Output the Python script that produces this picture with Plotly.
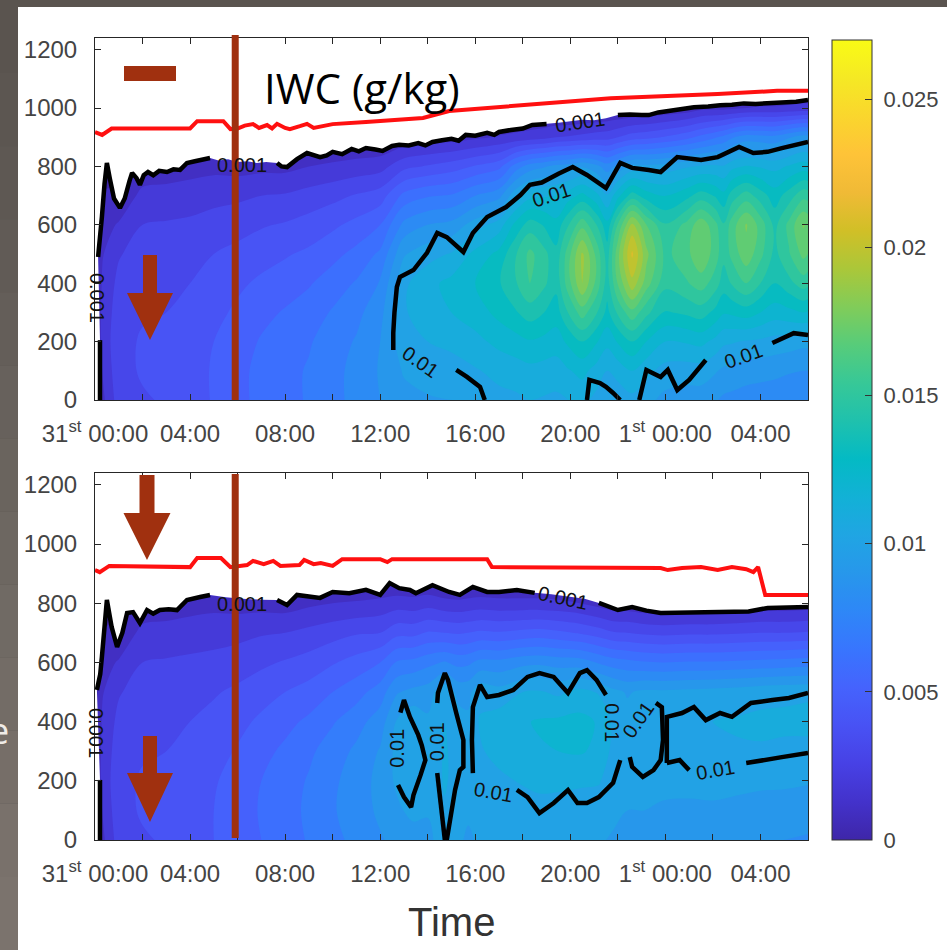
import math
import plotly.graph_objects as go

W, H = 947, 950

# ------------------------------------------------------------------ data
altitudes = [0, 100, 200, 300, 400, 500, 600, 700, 800, 900, 1000, 1100, 1200]

times_top = [0, 0.3, 1, 2, 3, 4, 5, 6, 7, 8, 9, 10, 11, 12, 13, 14, 15, 16, 17, 17.7,
             18.3, 18.9, 19.4, 19.9, 20.5, 21.1, 21.55, 22.0, 22.6, 23.2, 24.0, 24.9, 25.5,
             26.1, 26.45, 26.8, 27.4, 28.0, 28.6, 29.2, 29.8, 30]
# IWC (g/kg) columns, one per time, altitude 0..1200 m
iwc_top_cols = [
    [0, 0, 0, 0, 0, 0, 0, 0, 0, 0, 0, 0, 0],
    [0.0012, 0.0015, 0.0018, 0.0018, 0.0016, 0.0014, 0.0011, 0.0006, 0, 0, 0, 0, 0],
    [0.0030, 0.0032, 0.0032, 0.0030, 0.0028, 0.0024, 0.0016, 0.0007, 0.0002, 0, 0, 0, 0],
    [0.0034, 0.0036, 0.0036, 0.0034, 0.0032, 0.0030, 0.0025, 0.0018, 0.0008, 0, 0, 0, 0],
    [0.0036, 0.0038, 0.0037, 0.0035, 0.0033, 0.0031, 0.0026, 0.0019, 0.0009, 0, 0, 0, 0],
    [0.0040, 0.0041, 0.0040, 0.0038, 0.0035, 0.0032, 0.0027, 0.0020, 0.0011, 0.0002, 0, 0, 0],
    [0.0046, 0.0046, 0.0045, 0.0042, 0.0039, 0.0035, 0.0029, 0.0022, 0.0012, 0.0002, 0, 0, 0],
    [0.0052, 0.0052, 0.0050, 0.0047, 0.0043, 0.0038, 0.0031, 0.0023, 0.0011, 0.0002, 0, 0, 0],
    [0.0058, 0.0058, 0.0056, 0.0052, 0.0047, 0.0041, 0.0034, 0.0025, 0.0012, 0.0002, 0, 0, 0],
    [0.0062, 0.0062, 0.0060, 0.0056, 0.0050, 0.0044, 0.0036, 0.0026, 0.0012, 0.0002, 0, 0, 0],
    [0.0066, 0.0066, 0.0064, 0.0060, 0.0054, 0.0047, 0.0039, 0.0029, 0.0015, 0.0003, 0, 0, 0],
    [0.0072, 0.0072, 0.0070, 0.0066, 0.0060, 0.0052, 0.0043, 0.0032, 0.0017, 0.0003, 0, 0, 0],
    [0.0078, 0.0078, 0.0076, 0.0072, 0.0066, 0.0058, 0.0048, 0.0036, 0.0019, 0.0004, 0, 0, 0],
    [0.0085, 0.0086, 0.0085, 0.0082, 0.0076, 0.0067, 0.0055, 0.0040, 0.0021, 0.0004, 0, 0, 0],
    [0.0092, 0.0096, 0.0101, 0.0104, 0.0103, 0.0094, 0.0078, 0.0058, 0.0032, 0.0007, 0, 0, 0],
    [0.0094, 0.0099, 0.0105, 0.0110, 0.0112, 0.0101, 0.0085, 0.0064, 0.0036, 0.0009, 0, 0, 0],
    [0.0095, 0.0100, 0.0108, 0.0115, 0.0118, 0.0106, 0.0088, 0.0066, 0.0040, 0.0010, 0, 0, 0],
    [0.0098, 0.0104, 0.0112, 0.0120, 0.0125, 0.0118, 0.0100, 0.0075, 0.0046, 0.0013, 0, 0, 0],
    [0.0102, 0.0108, 0.0118, 0.0128, 0.0134, 0.0128, 0.0110, 0.0082, 0.0052, 0.0016, 0, 0, 0],
    [0.0103, 0.0110, 0.0121, 0.0134, 0.0144, 0.0144, 0.0128, 0.0102, 0.0070, 0.0018, 0, 0, 0],
    [0.0105, 0.0112, 0.0124, 0.0140, 0.0155, 0.0158, 0.0140, 0.0112, 0.0080, 0.0020, 0, 0, 0],
    [0.0104, 0.0111, 0.0122, 0.0135, 0.0147, 0.0148, 0.0134, 0.0114, 0.0084, 0.0022, 0, 0, 0],
    [0.0103, 0.0110, 0.0120, 0.0130, 0.0138, 0.0138, 0.0128, 0.0115, 0.0088, 0.0025, 0, 0, 0],
    [0.0105, 0.0114, 0.0127, 0.0145, 0.0160, 0.0160, 0.0144, 0.0120, 0.0090, 0.0026, 0, 0, 0],
    [0.0108, 0.0118, 0.0135, 0.0160, 0.0185, 0.0187, 0.0162, 0.0128, 0.0094, 0.0028, 0, 0, 0],
    [0.0102, 0.0111, 0.0126, 0.0146, 0.0162, 0.0162, 0.0145, 0.0118, 0.0088, 0.0030, 0.0001, 0, 0],
    [0.0095, 0.0105, 0.0118, 0.0132, 0.0140, 0.0140, 0.0128, 0.0106, 0.0080, 0.0031, 0.0002, 0, 0],
    [0.0098, 0.0109, 0.0126, 0.0147, 0.0166, 0.0172, 0.0156, 0.0122, 0.0088, 0.0035, 0.0002, 0, 0],
    [0.0102, 0.0115, 0.0135, 0.0162, 0.0192, 0.0207, 0.0188, 0.0140, 0.0098, 0.0040, 0.0003, 0, 0],
    [0.0098, 0.0108, 0.0125, 0.0148, 0.0170, 0.0178, 0.0165, 0.0130, 0.0098, 0.0042, 0.0004, 0, 0],
    [0.0092, 0.0101, 0.0115, 0.0134, 0.0148, 0.0152, 0.0146, 0.0124, 0.0100, 0.0046, 0.0006, 0, 0],
    [0.0090, 0.0100, 0.0116, 0.0137, 0.0154, 0.0162, 0.0158, 0.0132, 0.0104, 0.0052, 0.0008, 0, 0],
    [0.0090, 0.0100, 0.0118, 0.0140, 0.0160, 0.0174, 0.0172, 0.0140, 0.0106, 0.0058, 0.0012, 0, 0],
    [0.0086, 0.0096, 0.0112, 0.0132, 0.0150, 0.0160, 0.0158, 0.0134, 0.0107, 0.0064, 0.0012, 0, 0],
    [0.0083, 0.0093, 0.0107, 0.0126, 0.0140, 0.0148, 0.0146, 0.0128, 0.0106, 0.0068, 0.0012, 0, 0],
    [0.0082, 0.0092, 0.0106, 0.0127, 0.0146, 0.0158, 0.0160, 0.0140, 0.0112, 0.0074, 0.0013, 0, 0],
    [0.0080, 0.0090, 0.0104, 0.0130, 0.0155, 0.0172, 0.0176, 0.0150, 0.0116, 0.0080, 0.0015, 0, 0],
    [0.0079, 0.0089, 0.0103, 0.0125, 0.0145, 0.0158, 0.0161, 0.0140, 0.0114, 0.0079, 0.0016, 0, 0],
    [0.0078, 0.0088, 0.0101, 0.0120, 0.0135, 0.0142, 0.0142, 0.0130, 0.0112, 0.0078, 0.0016, 0, 0],
    [0.0077, 0.0086, 0.0100, 0.0122, 0.0142, 0.0154, 0.0158, 0.0140, 0.0116, 0.0084, 0.0017, 0, 0],
    [0.0076, 0.0085, 0.0098, 0.0125, 0.0150, 0.0168, 0.0176, 0.0152, 0.0120, 0.0090, 0.0018, 0, 0],
    [0.0076, 0.0085, 0.0098, 0.0124, 0.0148, 0.0165, 0.0173, 0.0151, 0.0119, 0.0089, 0.0018, 0, 0],
]

times_bot = [0, 0.3, 1, 2, 3, 4, 5, 6, 7, 8, 9, 10, 11, 12, 12.7, 13.4, 14, 14.7, 15.3,
             15.7, 16.2, 17, 18, 18.7, 19.5, 20.4, 21.2, 21.8, 22.4, 23.1, 23.9, 25, 26,
             27, 28, 29, 30]
iwc_bot_cols = [
    [0, 0, 0, 0, 0, 0, 0, 0, 0, 0, 0, 0, 0],
    [0.0012, 0.0015, 0.0018, 0.0018, 0.0016, 0.0014, 0.0011, 0.0006, 0, 0, 0, 0, 0],
    [0.0030, 0.0032, 0.0032, 0.0030, 0.0028, 0.0024, 0.0016, 0.0007, 0.0002, 0, 0, 0, 0],
    [0.0034, 0.0036, 0.0036, 0.0034, 0.0032, 0.0030, 0.0025, 0.0018, 0.0008, 0, 0, 0, 0],
    [0.0036, 0.0038, 0.0037, 0.0035, 0.0033, 0.0031, 0.0026, 0.0019, 0.0009, 0, 0, 0, 0],
    [0.0040, 0.0041, 0.0040, 0.0038, 0.0035, 0.0032, 0.0027, 0.0020, 0.0011, 0.0002, 0, 0, 0],
    [0.0045, 0.0045, 0.0044, 0.0041, 0.0038, 0.0034, 0.0028, 0.0021, 0.0012, 0.0002, 0, 0, 0],
    [0.0050, 0.0050, 0.0049, 0.0046, 0.0042, 0.0037, 0.0030, 0.0022, 0.0011, 0.0002, 0, 0, 0],
    [0.0055, 0.0056, 0.0055, 0.0052, 0.0047, 0.0041, 0.0033, 0.0024, 0.0011, 0.0002, 0, 0, 0],
    [0.0060, 0.0061, 0.0060, 0.0057, 0.0052, 0.0045, 0.0036, 0.0025, 0.0010, 0.0001, 0, 0, 0],
    [0.0066, 0.0067, 0.0066, 0.0063, 0.0057, 0.0049, 0.0039, 0.0028, 0.0013, 0.0002, 0, 0, 0],
    [0.0072, 0.0074, 0.0073, 0.0070, 0.0064, 0.0055, 0.0044, 0.0031, 0.0015, 0.0002, 0, 0, 0],
    [0.0078, 0.0080, 0.0080, 0.0077, 0.0071, 0.0061, 0.0049, 0.0034, 0.0016, 0.0002, 0, 0, 0],
    [0.0084, 0.0087, 0.0088, 0.0086, 0.0080, 0.0070, 0.0055, 0.0035, 0.0018, 0, 0, 0, 0],
    [0.0088, 0.0093, 0.0097, 0.0098, 0.0096, 0.0084, 0.0066, 0.0042, 0.0020, 0, 0, 0, 0],
    [0.0090, 0.0098, 0.0104, 0.0105, 0.0103, 0.0088, 0.0068, 0.0042, 0.0019, 0, 0, 0, 0],
    [0.0092, 0.0096, 0.0098, 0.0098, 0.0097, 0.0090, 0.0072, 0.0046, 0.0021, 0, 0, 0, 0],
    [0.0101, 0.0104, 0.0106, 0.0106, 0.0105, 0.0102, 0.0076, 0.0045, 0.0018, 0, 0, 0, 0],
    [0.0096, 0.0099, 0.0102, 0.0102, 0.0099, 0.0092, 0.0072, 0.0044, 0.0017, 0, 0, 0, 0],
    [0.0094, 0.0096, 0.0098, 0.0098, 0.0097, 0.0092, 0.0073, 0.0045, 0.0018, 0, 0, 0, 0],
    [0.0096, 0.0099, 0.0101, 0.0104, 0.0106, 0.0102, 0.0078, 0.0047, 0.0019, 0, 0, 0, 0],
    [0.0097, 0.0099, 0.0103, 0.0108, 0.0110, 0.0099, 0.0078, 0.0046, 0.0018, 0, 0, 0, 0],
    [0.0097, 0.0100, 0.0106, 0.0112, 0.0114, 0.0105, 0.0082, 0.0048, 0.0018, 0, 0, 0, 0],
    [0.0098, 0.0101, 0.0108, 0.0114, 0.0116, 0.0106, 0.0083, 0.0049, 0.0018, 0, 0, 0, 0],
    [0.0097, 0.0100, 0.0108, 0.0115, 0.0117, 0.0103, 0.0081, 0.0047, 0.0017, 0, 0, 0, 0],
    [0.0096, 0.0099, 0.0107, 0.0116, 0.0118, 0.0108, 0.0080, 0.0044, 0.0015, 0, 0, 0, 0],
    [0.0096, 0.0099, 0.0106, 0.0113, 0.0114, 0.0104, 0.0074, 0.0040, 0.0011, 0, 0, 0, 0],
    [0.0094, 0.0097, 0.0099, 0.0102, 0.0103, 0.0098, 0.0070, 0.0036, 0.0008, 0, 0, 0, 0],
    [0.0092, 0.0095, 0.0097, 0.0099, 0.0099, 0.0094, 0.0068, 0.0035, 0.0008, 0, 0, 0, 0],
    [0.0092, 0.0095, 0.0101, 0.0104, 0.0104, 0.0097, 0.0066, 0.0033, 0.0006, 0, 0, 0, 0],
    [0.0091, 0.0094, 0.0097, 0.0102, 0.0104, 0.0097, 0.0065, 0.0032, 0.0005, 0, 0, 0, 0],
    [0.0090, 0.0093, 0.0098, 0.0103, 0.0104, 0.0098, 0.0066, 0.0033, 0.0005, 0, 0, 0, 0],
    [0.0089, 0.0093, 0.0099, 0.0104, 0.0105, 0.0099, 0.0066, 0.0033, 0.0005, 0, 0, 0, 0],
    [0.0088, 0.0092, 0.0098, 0.0104, 0.0106, 0.0100, 0.0067, 0.0034, 0.0006, 0, 0, 0, 0],
    [0.0086, 0.0091, 0.0097, 0.0104, 0.0107, 0.0102, 0.0068, 0.0035, 0.0008, 0, 0, 0, 0],
    [0.0085, 0.0090, 0.0097, 0.0103, 0.0107, 0.0103, 0.0069, 0.0035, 0.0008, 0, 0, 0, 0],
    [0.0084, 0.0089, 0.0096, 0.0103, 0.0107, 0.0104, 0.0070, 0.0036, 0.0009, 0, 0, 0, 0],
]

# cloud top (0.001 g/kg contour), time [h] / altitude [m]
top_ct_t = [0.21, 0.21, 0.13, 0.22, 0.29, 0.40, 0.50, 0.62, 0.80, 1.05, 1.25, 1.45, 1.56,
            1.75, 1.89, 2.05, 2.23, 2.45, 2.70, 3.03, 3.30, 3.58, 3.87, 4.20, 4.55, 4.84,
            5.2, 5.6, 6.0, 6.4, 6.8, 7.2, 7.66, 7.85, 8.08, 8.5, 8.92, 9.2, 9.47, 9.75,
            10.0, 10.4, 10.8, 11.1, 11.4, 11.8, 12.1, 12.5, 12.8, 13.2, 13.6, 13.9, 14.2,
            14.6, 15.0, 15.3, 15.6, 16.0, 16.5, 16.8, 17.0, 17.5, 18.0, 18.4, 19.0, 19.5,
            20.0, 20.5, 21.0, 21.5, 22.0, 22.5, 23.0, 23.3, 23.7, 24.1, 24.7, 25.2, 25.8,
            26.3, 26.8, 27.3, 27.8, 28.5, 29.0, 29.5, 30.0]
top_ct_alt = [0, 205, 490, 560, 627, 740, 812, 760, 690, 658, 690, 750, 778, 760, 737,
              770, 781, 770, 785, 781, 790, 788, 812, 818, 822, 829, 820, 825, 815, 818,
              812, 815, 812, 800, 798, 825, 846, 840, 832, 838, 850, 842, 860, 852, 863,
              858, 853, 870, 874, 872, 880, 872, 884, 890, 895, 888, 908, 905, 915, 908,
              918, 925, 930, 942, 945, 950, 955, 960, 958, 965, 976, 978, 976, 976, 985,
              990, 1000, 1003, 1005, 1010, 1011, 1016, 1014, 1017, 1020, 1022, 1028]

bot_ct_t = [0.21, 0.21, 0.08, 0.22, 0.29, 0.40, 0.50, 0.70, 0.93, 1.15, 1.35, 1.6, 1.89,
            2.19, 2.45, 2.73, 3.1, 3.45, 3.87, 4.42, 4.84, 5.5, 6.2, 7.0, 7.66, 8.08, 8.5,
            9.17, 9.47, 10.0, 10.7, 11.4, 12.0, 12.4, 12.8, 13.25, 13.5, 14.2, 14.9, 15.35,
            15.9, 16.5, 17.0, 17.75, 18.5, 19.2, 20.0, 20.6, 21.2, 22.0, 22.6, 23.2, 23.8,
            24.6, 25.5, 26.2, 26.8, 27.5, 28.3, 29.2, 30.0]
bot_ct_alt = [0, 203, 507, 560, 618, 740, 811, 720, 652, 700, 767, 770, 733, 777, 765,
              777, 780, 777, 811, 821, 828, 820, 815, 812, 811, 794, 828, 821, 818, 838,
              834, 845, 828, 868, 851, 845, 834, 861, 838, 828, 855, 838, 838, 845, 835,
              830, 822, 815, 801, 777, 787, 775, 767, 768, 770, 770, 770, 772, 784, 786, 787]

# 0.01 g/kg contour segments
top_c01 = [
    ([12.55, 12.55, 12.6, 12.7, 12.83, 13.4, 13.97, 14.4, 14.8, 15.5, 15.9, 16.5, 17.3,
      17.9, 18.3, 18.8, 19.5, 20.1, 20.7, 21.5, 22.1, 22.6, 23.3, 23.8, 24.5, 25.5, 26.2,
      27.1, 27.7, 28.3, 28.9, 30.0],
     [171, 230, 300, 387, 421, 445, 504, 572, 558, 507, 572, 627, 661, 702, 737, 745, 775,
      798, 771, 726, 812, 795, 788, 781, 832, 822, 832, 867, 846, 850, 863, 884]),
    ([12.55, 13.0, 13.7, 14.2, 14.6, 15.2, 15.65, 16.2, 16.4],
     [171, 160, 130, 110, 103, 103, 79, 45, 0]),
    ([20.7, 20.8, 21.25, 21.5, 21.8, 22.1], [0, 69, 58, 45, 24, 0]),
    ([22.9, 23.2, 23.8, 24.1, 24.5, 25.0, 25.7, 26.3, 27.3, 28.5, 29.4, 30.0],
     [0, 103, 79, 103, 34, 69, 137, 150, 165, 195, 229, 223]),
]
bot_c01 = [
    ([12.75, 13.0, 13.3, 13.4, 13.7, 13.9, 13.75, 13.6, 13.25, 13.0, 12.85, 12.75, 12.7,
      12.72, 12.75],
     [186, 145, 111, 152, 220, 270, 320, 355, 416, 473, 430, 380, 311, 250, 186]),
    ([14.72, 14.64, 14.5, 14.4, 14.38, 14.4, 14.43, 14.72, 14.85, 15.2, 15.5, 15.5, 15.35,
      15.15, 14.93, 14.8],
     [0, 57, 159, 226, 340, 463, 497, 564, 541, 429, 338, 247, 236, 169, 57, 0]),
    ([22.1, 21.8, 21.2, 20.7, 20.3, 19.9, 19.3, 18.7, 18.2, 17.75, 17.2, 16.75, 16.2, 15.9,
      15.86, 15.9, 16.2, 16.5, 17.0, 17.6, 18.2, 18.7, 19.3, 19.9, 20.4, 20.7, 21.1, 21.5,
      21.8, 22.1],
     [270, 193, 145, 125, 125, 169, 125, 91, 145, 169, 180, 175, 179, 226, 338, 449, 524,
      483, 490, 507, 551, 564, 551, 497, 564, 574, 541, 490, 390, 270]),
    ([23.6, 23.85, 23.9, 23.8, 23.5, 23.05, 22.6, 22.5, 22.4, 22.5],
     [463, 449, 338, 270, 236, 213, 247, 280, 338, 400]),
    ([24.06, 24.06, 24.06, 24.7, 25.2, 25.7, 26.3, 26.8, 27.6, 28.5, 29.2, 30.0],
     [260, 340, 416, 429, 449, 405, 429, 416, 463, 473, 480, 497]),
    ([24.06, 24.6, 25.0, 25.6, 26.1, 26.8, 27.4, 28.3, 28.9, 30.0],
     [260, 270, 236, 240, 236, 250, 260, 270, 280, 294]),
]

# red line (upper boundary) time [h] / altitude [m]
top_red_t = [0, 0.3, 0.7, 4.0, 4.3, 5.4, 5.7, 6.0, 6.3, 6.65, 6.9, 7.24, 7.45, 7.66, 8.0,
             8.2, 8.62, 8.92, 9.2, 10.0, 11.4, 13.8, 14.9, 18.4, 21.7, 26.2, 28.7, 30.0]
top_red_alt = [918, 908, 930, 930, 955, 955, 928, 930, 940, 945, 932, 942, 930, 946, 932,
               928, 938, 946, 932, 945, 952, 966, 990, 1011, 1034, 1048, 1059, 1059]
bot_red_t = [0, 0.2, 0.6, 4.0, 4.3, 5.3, 5.7, 6.4, 6.65, 7.1, 7.5, 7.8, 8.6, 8.8, 9.2,
             9.5, 10.0, 10.4, 12.0, 12.3, 12.5, 16.5, 16.7, 18.4, 23.8, 24.1, 24.7, 25.5,
             26.2, 26.8, 27.4, 27.7, 27.9, 28.2, 30.0]
bot_red_alt = [912, 905, 926, 922, 953, 953, 922, 929, 943, 932, 943, 926, 929, 946, 932,
               936, 926, 949, 949, 939, 949, 949, 922, 922, 919, 912, 919, 922, 912, 922,
               915, 905, 922, 828, 828]

# contour labels: (text, time, altitude, angle)
top_labels = [("0.001", 0.08, 350, 90), ("0.001", 6.2, 805, 0), ("0.001", 20.4, 952, -8),
              ("0.01", 19.2, 702, -18), ("0.01", 13.7, 130, 35), ("0.01", 27.3, 151, -20)]
bot_labels = [("0.001", 0.05, 361, 90), ("0.001", 6.2, 798, 0), ("0.001", 19.7, 818, 12),
              ("0.01", 12.7, 311, -90), ("0.01", 14.4, 331, -90), ("0.01", 16.75, 162, 10),
              ("0.01", 21.75, 395, 90), ("0.01", 22.85, 405, -55), ("0.01", 26.1, 236, -10)]

x_tickvals = [0, 4, 8, 12, 16, 20, 24, 28]
x_ticktext = ["31<sup>st</sup> 00:00", "04:00", "08:00", "12:00", "16:00", "20:00",
              "1<sup>st</sup> 00:00", "04:00"]
y_tickvals = [0, 200, 400, 600, 800, 1000, 1200]
cb_tickvals = [0, 0.005, 0.01, 0.015, 0.02, 0.025]
cb_ticktext = ["0", "0.005", "0.01", "0.015", "0.02", "0.025"]
marker_time = 5.9
TMAX, AMAX, ZMAX = 30, 1240, 0.027

# ------------------------------------------------------------------ style
parula_rows = [
    (0.2422, 0.1504, 0.6603), (0.2647, 0.1978, 0.7952), (0.2783, 0.2559, 0.8991),
    (0.2810, 0.3228, 0.9579), (0.2699, 0.3892, 0.9906), (0.2206, 0.4603, 0.9973),
    (0.1786, 0.5289, 0.9682), (0.1540, 0.5902, 0.9218), (0.1248, 0.6459, 0.8883),
    (0.0689, 0.6948, 0.8394), (0.0150, 0.7296, 0.7683), (0.1200, 0.7550, 0.6800),
    (0.2161, 0.7843, 0.5923), (0.3406, 0.8008, 0.4789), (0.5044, 0.7993, 0.3480),
    (0.6720, 0.7793, 0.2227), (0.8203, 0.7498, 0.1535), (0.9393, 0.7288, 0.2100),
    (0.9970, 0.7659, 0.2199), (0.9786, 0.8386, 0.1766), (0.9597, 0.9135, 0.1423),
    (0.9769, 0.9839, 0.0805)]
parula = [[i / (len(parula_rows) - 1),
           "rgb(%d,%d,%d)" % tuple(round(c * 255) for c in rgb)]
          for i, rgb in enumerate(parula_rows)]

BROWN = "#a0300f"
FONT = "Liberation Sans"
TICKC = "#444444"

# pixel geometry
PX0, PX1 = 95, 808
TOP_Y0, TOP_Y1 = 38, 400
BOT_Y0, BOT_Y1 = 473, 840


def fx(px):
    return px / W


def fy(py):
    return 1 - py / H


def transpose(cols):
    return [list(r) for r in zip(*cols)]


def text_halflen(txt, size=20):
    w = sum(0.278 if ch == "." else 0.556 for ch in txt)
    return w * size / 2 + 3


def in_label(t, a, labels, sy):
    sx = (PX1 - PX0) / TMAX
    for txt, t0, a0, ang in labels:
        dx = (t - t0) * sx
        dy = -(a - a0) * sy
        th = math.radians(ang)
        u = dx * math.cos(th) + dy * math.sin(th)
        v = -dx * math.sin(th) + dy * math.cos(th)
        if abs(u) < text_halflen(txt) and abs(v) < 10:
            return True
    return False


def clip_line(ts, als, labels, sy):
    ot, oa = [], []
    prev = None
    for t, a in zip(ts, als):
        if in_label(t, a, labels, sy):
            if ot and ot[-1] is not None:
                ot.append(None)
                oa.append(None)
            prev = None
            continue
        if prev is not None:
            crosses = any(in_label(prev[0] + f * (t - prev[0]), prev[1] + f * (a - prev[1]),
                                   labels, sy) for f in (0.2, 0.4, 0.5, 0.6, 0.8))
            if crosses:
                ot.append(None)
                oa.append(None)
        ot.append(t)
        oa.append(a)
        prev = (t, a)
    return ot, oa


fig = go.Figure()

panels = [
    dict(xa="x", ya="y", times=times_top, cols=iwc_top_cols, ct=(top_ct_t, top_ct_alt),
         c01=top_c01, red=(top_red_t, top_red_alt), labels=top_labels,
         sy=(TOP_Y1 - TOP_Y0) / AMAX),
    dict(xa="x2", ya="y2", times=times_bot, cols=iwc_bot_cols, ct=(bot_ct_t, bot_ct_alt),
         c01=bot_c01, red=(bot_red_t, bot_red_alt), labels=bot_labels,
         sy=(BOT_Y1 - BOT_Y0) / AMAX),
]

for p in panels:
    fig.add_trace(go.Contour(
        x=p["times"], y=altitudes, z=transpose(p["cols"]), xaxis=p["xa"], yaxis=p["ya"],
        colorscale=parula, zmin=0, zmax=ZMAX, autocontour=False,
        contours=dict(start=0.0005, end=0.0265, size=0.001, coloring="fill",
                      showlines=False),
        line=dict(width=0), showscale=False, hoverinfo="skip"))
    ct_t, ct_a = p["ct"]
    # white area above the 0.001 contour
    fig.add_trace(go.Scatter(
        x=[0] + ct_t + [TMAX, TMAX, 0], y=[0] + ct_a + [ct_a[-1], AMAX + 50, AMAX + 50],
        xaxis=p["xa"], yaxis=p["ya"], mode="lines", fill="toself", fillcolor="white",
        line=dict(width=0, color="white"), hoverinfo="skip", showlegend=False))
    # black contour lines
    bx, by = clip_line(ct_t, ct_a, p["labels"], p["sy"])
    for seg_t, seg_a in p["c01"]:
        st, sa = clip_line(seg_t, seg_a, p["labels"], p["sy"])
        bx += [None] + st
        by += [None] + sa
    fig.add_trace(go.Scatter(x=bx, y=by, xaxis=p["xa"], yaxis=p["ya"], mode="lines",
                             line=dict(color="black", width=4.5), hoverinfo="skip",
                             showlegend=False, connectgaps=False))
    fig.add_trace(go.Scatter(x=p["red"][0], y=p["red"][1], xaxis=p["xa"], yaxis=p["ya"],
                             mode="lines", line=dict(color="#ff1010", width=4),
                             hoverinfo="skip", showlegend=False))

# colorbar carrier
NBSP = "\u00a0"
fig.add_trace(go.Scatter(
    x=[-100], y=[-100], xaxis="x", yaxis="y", mode="markers", hoverinfo="skip",
    showlegend=False,
    marker=dict(color=[0], colorscale=parula, cmin=0, cmax=ZMAX, showscale=True, size=1,
                colorbar=dict(thickness=40, thicknessmode="pixels", len=800 / H,
                              lenmode="fraction", x=fx(832), xanchor="left", y=fy(40),
                              yanchor="top", xpad=0, ypad=0, outlinewidth=1,
                              outlinecolor="#333333", ticks="inside", ticklen=7,
                              tickcolor="#333333", tickvals=cb_tickvals,
                              ticktext=[NBSP + s for s in cb_ticktext],
                              tickfont=dict(family=FONT, size=22, color=TICKC)))))

axis_common = dict(showline=True, linecolor="#262626", linewidth=1, mirror="ticks",
                   ticks="inside", ticklen=6, tickcolor="#262626", showgrid=False,
                   zeroline=False, automargin=False,
                   tickfont=dict(family=FONT, size=24, color=TICKC))
xcommon = dict(axis_common, range=[0, TMAX], tickmode="array", tickvals=x_tickvals,
               ticktext=x_ticktext, ticklabelstandoff=12, domain=[fx(PX0), fx(PX1)],
               minor=dict(ticks="inside", ticklen=6, tickcolor="#262626", dtick=2,
                          tick0=0, showgrid=False))
ycommon = dict(axis_common, range=[0, AMAX], tickmode="array", tickvals=y_tickvals,
               ticklabelstandoff=12)

annotations = []
for p in panels:
    for txt, t0, a0, ang in p["labels"]:
        annotations.append(dict(x=t0, y=a0, xref=p["xa"], yref=p["ya"], text=txt,
                                showarrow=False, textangle=ang,
                                font=dict(family=FONT, size=20, color="#111111")))
annotations += [
    dict(x=fx(262), y=fy(88), xref="paper", yref="paper", xanchor="left",
         yanchor="middle", text="IWC (g/kg)", showarrow=False,
         font=dict(family="Open Sans", size=42, color="black")),
    dict(x=fx(451), y=fy(922), xref="paper", yref="paper", xanchor="center",
         yanchor="middle", text="Time", showarrow=False,
         font=dict(family=FONT, size=40, color="#333333")),
    dict(x=fx(11), y=fy(730), xref="paper", yref="paper", xanchor="right",
         yanchor="middle", text="e", showarrow=False,
         font=dict(family="Open Sans", size=36, color="#efebe7")),
]


def arrow_path(cx, top, shaft_w, head_top, head_w, tip):
    pts = [(cx - shaft_w / 2, top), (cx + shaft_w / 2, top), (cx + shaft_w / 2, head_top),
           (cx + head_w / 2, head_top), (cx, tip), (cx - head_w / 2, head_top),
           (cx - shaft_w / 2, head_top)]
    return "M " + " L ".join("%.5f,%.5f" % (fx(x), fy(y)) for x, y in pts) + " Z"


shapes = [dict(type="rect", xref="paper", yref="paper", x0=fx(18), x1=1, y0=0, y1=fy(7),
               fillcolor="white", line=dict(width=0), layer="below")]
strip_cols = ["#5a544f", "#5c5651", "#5e5853", "#615b56", "#645e59", "#67615c",
              "#6a645e", "#6d6761", "#706a64", "#736c66", "#766e68", "#79716b", "#7b736d"]
nst = len(strip_cols)
for i, c in enumerate(strip_cols):
    shapes.append(dict(type="rect", xref="paper", yref="paper", x0=0, x1=fx(18),
                       y0=fy(H * (i + 1) / nst), y1=fy(H * i / nst), fillcolor=c,
                       line=dict(width=0), layer="below"))
shapes += [
    dict(type="line", xref="x", yref="paper", x0=marker_time, x1=marker_time,
         y0=fy(TOP_Y1), y1=fy(35), line=dict(color=BROWN, width=7), layer="above"),
    dict(type="line", xref="x2", yref="paper", x0=marker_time, x1=marker_time,
         y0=fy(BOT_Y1 - 2), y1=fy(BOT_Y0 + 1), line=dict(color=BROWN, width=7),
         layer="above"),
    dict(type="rect", xref="paper", yref="paper", x0=fx(124), x1=fx(176), y0=fy(81),
         y1=fy(66), fillcolor=BROWN, line=dict(width=0), layer="above"),
    dict(type="path", xref="paper", yref="paper", path=arrow_path(150, 255, 14, 293, 46, 340),
         fillcolor=BROWN, line=dict(width=0), layer="above"),
    dict(type="path", xref="paper", yref="paper", path=arrow_path(147, 475, 15, 513, 47, 560),
         fillcolor=BROWN, line=dict(width=0), layer="above"),
    dict(type="path", xref="paper", yref="paper", path=arrow_path(150, 736, 14, 773, 46, 822),
         fillcolor=BROWN, line=dict(width=0), layer="above"),
]

fig.update_layout(
    width=W, height=H, margin=dict(l=0, r=0, t=0, b=0, autoexpand=False),
    paper_bgcolor="#5a544f", plot_bgcolor="rgba(0,0,0,0)", showlegend=False,
    xaxis=dict(xcommon, anchor="y"),
    yaxis=dict(ycommon, anchor="x", domain=[fy(TOP_Y1), fy(TOP_Y0)]),
    xaxis2=dict(xcommon, anchor="y2"),
    yaxis2=dict(ycommon, anchor="x2", domain=[fy(BOT_Y1), fy(BOT_Y0)]),
    annotations=annotations, shapes=shapes,
)

fig.write_html("out.html")
